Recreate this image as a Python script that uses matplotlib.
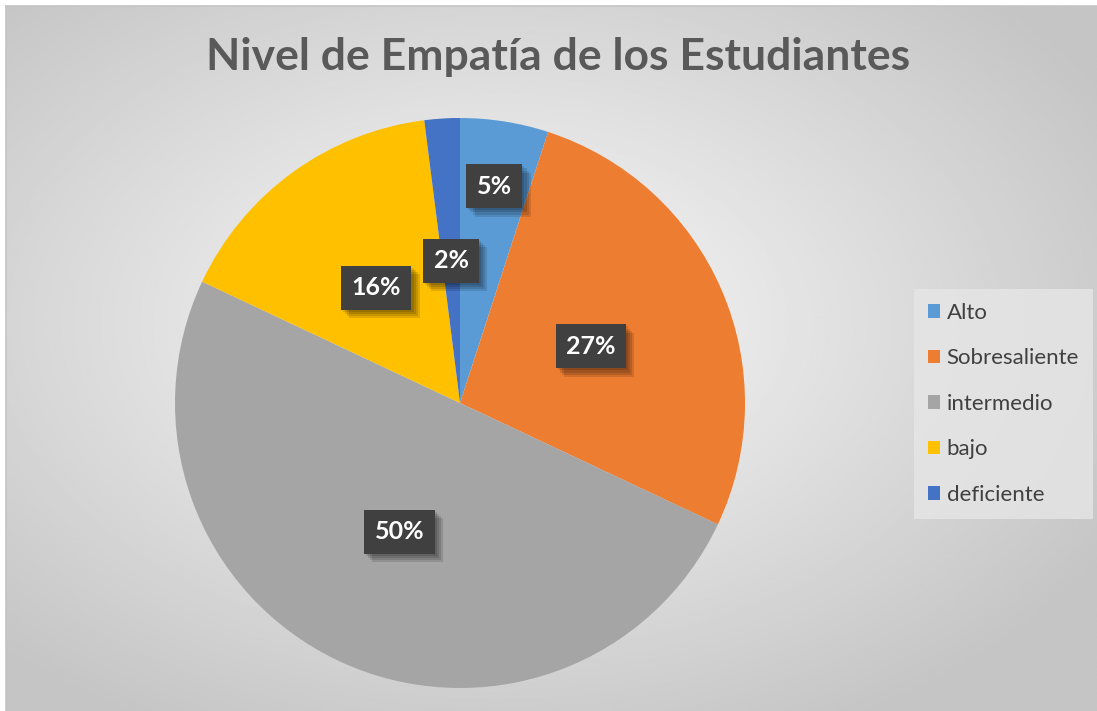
import numpy as np
import matplotlib.pyplot as plt
import matplotlib.patheffects as pe

plt.rcParams['font.family'] = ['Lato', 'DejaVu Sans']

# datos
categorias = ['Alto', 'Sobresaliente', 'intermedio', 'bajo', 'deficiente']
porcentajes = [5, 27, 50, 16, 2]
colores = ['#5B9BD5', '#ED7D31', '#A5A5A5', '#FFC000', '#4472C4']
titulo = 'Nivel de Empatía de los Estudiantes'

W, H = 1097, 711
fig = plt.figure(figsize=(W / 100, H / 100), dpi=100)
fig.patch.set_facecolor('white')

# fondo con degradado radial
bg = fig.add_axes([6 / W, 0, 1 - 6 / W, 1 - 6 / H])
yy, xx = np.mgrid[0:1:300j, 0:1:460j]
d = np.sqrt(((xx - 0.45) / 0.75) ** 2 + ((yy - 0.45) / 0.75) ** 2)
val = np.clip(0.98 - 0.24 * d, 0.77, 0.98)
bg.imshow(val, cmap='gray', vmin=0, vmax=1, aspect='auto', extent=[0, 1, 1, 0],
          interpolation='bilinear')
bg.set_xticks([])
bg.set_yticks([])
for s in ['right', 'bottom']:
    bg.spines[s].set_visible(False)
for s in ['left', 'top']:
    bg.spines[s].set_color('#c4c4c4')
    bg.spines[s].set_linewidth(1.2)

# pastel
R = 285
cx, cy = 460, H - 403
ax = fig.add_axes([(cx - R) / W, (cy - R) / H, 2 * R / W, 2 * R / H])
wedges, _ = ax.pie(porcentajes, colors=colores, startangle=90, counterclock=False,
                   radius=1, wedgeprops=dict(linewidth=0))
ax.set_xlim(-1, 1)
ax.set_ylim(-1, 1)
ax.set_aspect('equal')
ax.axis('off')

# etiquetas de datos
sombra = [pe.SimplePatchShadow(offset=(o, -o), shadow_rgbFace='black', alpha=0.12)
          for o in (1.5, 3, 4.5, 6)] + [pe.Normal()]
dist = [0.77, 0.5, 0.5, 0.5, 0.5]
for w, p, r in zip(wedges, porcentajes, dist):
    ang = np.deg2rad((w.theta1 + w.theta2) / 2)
    x, y = r * np.cos(ang), r * np.sin(ang)
    t = ax.text(x, y, f'{p}%', ha='center', va='center', fontsize=18,
                fontweight='bold', color='white',
                bbox=dict(boxstyle='square,pad=0.42', fc='#404040', ec='none'))
    t.get_bbox_patch().set_path_effects(sombra)

# titulo
fig.text(558 / W, 1 - 57 / H, titulo, ha='center', va='center', fontsize=32,
         fontweight='bold', color='#595959')

# leyenda
leg = fig.legend(wedges, categorias, loc='upper left',
                 bbox_to_anchor=(914 / W, 1 - 289 / H), borderaxespad=0,
                 frameon=True, fancybox=False,
                 fontsize=16, handlelength=0.55, handleheight=0.55, handletextpad=0.3,
                 labelspacing=1.15, borderpad=0.62, labelcolor='#404040')
leg.get_frame().set_facecolor('#e6e6e6')
leg.get_frame().set_edgecolor('none')
leg.get_frame().set_alpha(0.8)

fig.savefig('out.png', dpi=100)
